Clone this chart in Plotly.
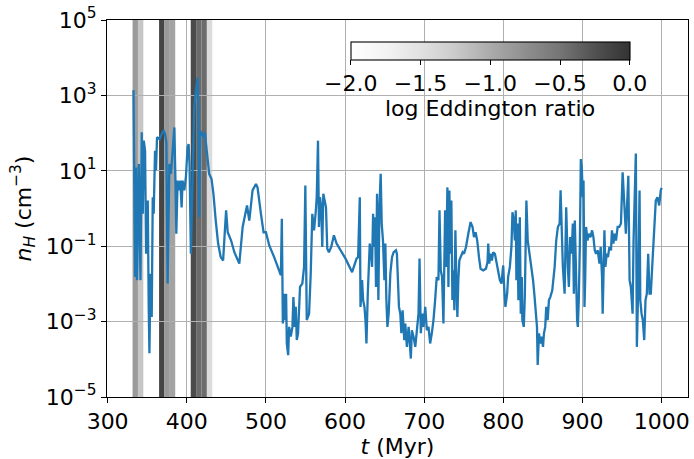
import numpy as np
import plotly.graph_objects as go
from plotly.colors import sample_colorscale

# ---------------- data ----------------
# time (Myr) and log10 of hydrogen number density (cm^-3)
t_myr = [
    332.7, 333.1, 334.7, 336.0, 337.2, 339.4, 341.5, 343.1, 344.4, 345.7, 347.3, 348.6, 350.7, 351.9, 352.8,
    354.1, 355.7, 357.0, 358.2, 359.9, 361.1, 362.4, 365.8, 369.2, 370.8, 372.5, 374.2, 375.8, 378.0, 380.0,
    382.1, 384.3, 385.5, 386.8, 388.4, 390.6, 391.8, 393.5, 394.7, 396.9, 398.9, 401.0, 402.3, 403.5, 405.2,
    407.3, 409.4, 411.4, 413.6, 414.8, 415.7, 417.0, 418.6, 421.1, 422.8, 425.3, 428.3, 431.2, 433.7, 436.6,
    439.6, 442.9, 445.9, 447.9, 449.7, 451.7, 456.0, 460.1, 466.4, 470.6, 476.1, 479.0, 483.1, 487.4, 489.4,
    493.7, 497.0, 500.0, 504.2, 510.4, 518.9, 520.1, 521.4, 523.0, 524.3, 525.5, 526.4, 528.1, 529.3, 531.4,
    533.5, 534.7, 536.5, 537.7, 539.0, 540.6, 543.1, 546.0, 548.2, 549.8, 551.6, 554.5, 556.6, 558.6, 560.8,
    562.9, 564.2, 565.8, 567.0, 568.3, 569.9, 571.2, 572.5, 574.2, 575.9, 577.5, 579.6, 582.5, 585.9, 589.3,
    594.3, 600.6, 608.9, 614.5, 616.5, 618.6, 619.5, 621.5, 622.8, 624.5, 625.8, 627.0, 628.7, 629.9, 631.2,
    632.8, 634.1, 635.4, 636.6, 637.9, 639.1, 640.4, 642.1, 643.4, 645.0, 646.3, 647.9, 649.7, 650.9, 652.2,
    653.5, 655.1, 657.2, 659.3, 661.4, 664.3, 665.5, 666.8, 668.1, 669.8, 671.1, 672.7, 674.8, 676.1, 678.1,
    680.3, 681.5, 683.1, 684.4, 686.5, 688.7, 690.7, 692.8, 694.1, 695.7, 697.5, 699.1, 701.3, 703.3, 705.4,
    707.5, 709.6, 711.7, 713.8, 715.8, 718.0, 719.3, 720.9, 722.6, 724.3, 726.4, 727.7, 729.3, 730.6, 731.8,
    733.1, 734.3, 735.6, 736.9, 738.1, 739.4, 740.6, 741.9, 743.1, 744.4, 746.0, 748.6, 750.3, 752.8, 755.7,
    758.6, 761.1, 762.9, 764.9, 767.0, 769.2, 771.2, 774.6, 778.0, 780.0, 780.9, 782.1, 783.8, 785.5, 787.2,
    789.3, 791.3, 793.5, 795.6, 797.6, 799.8, 801.0, 802.6, 804.8, 806.0, 808.2, 810.2, 811.5, 813.2, 814.5,
    815.7, 816.5, 817.7, 819.0, 820.8, 822.0, 823.3, 824.0, 825.8, 827.1, 829.1, 830.8, 832.5, 834.1, 835.9,
    837.5, 839.1, 840.9, 842.5, 843.4, 845.0, 846.7, 848.4, 850.1, 851.3, 852.9, 854.2, 856.0, 857.6, 859.3,
    861.8, 864.8, 866.8, 868.9, 871.1, 872.3, 873.6, 875.2, 877.4, 879.4, 881.5, 882.8, 884.4, 886.2, 887.8,
    889.1, 890.3, 891.9, 893.2, 894.1, 895.3, 896.6, 897.9, 899.1, 900.4, 901.3, 902.5, 903.3, 904.5, 906.3,
    907.9, 910.1, 912.1, 913.8, 915.5, 917.1, 919.3, 921.4, 923.0, 924.7, 925.5, 926.4, 927.7, 928.9, 930.6,
    932.2, 934.0, 936.0, 937.2, 939.0, 940.6, 942.3, 944.4, 946.5, 948.6, 950.7, 952.8, 954.8, 957.9, 959.5,
    961.1, 963.3, 964.5, 965.4, 967.4, 968.7, 970.4, 972.1, 973.0, 974.6, 976.2, 978.0, 979.6, 981.3, 983.0,
    984.7, 986.3, 988.5, 990.6, 992.6, 994.7, 996.9, 998.9, 1000.0,
]
log_nH = [
    3.14, 1.36, -1.82, 1.09, -1.90, 1.18, -1.90, 2.02, -0.14, 1.80, 1.53, -1.20, 0.21, -2.61, -3.84,
    -1.73, -2.88, 0.30, -0.14, 1.53, 1.01, 1.89, 1.84, 2.02, 2.06, 1.98, 1.75, -1.99, 1.18, 0.92,
    1.62, 2.15, 0.92, -0.67, 0.74, 0.48, 0.74, 0.03, 0.74, 0.48, 0.83, 1.62, 1.71, 1.18, -1.20,
    0.74, 2.68, 3.12, 3.47, 2.51, -0.23, 2.06, 1.98, 1.89, 2.02, 1.45, 0.92, 0.79, 0.39, -0.32,
    -0.93, -1.29, -1.38, -0.67, -0.05, -0.63, -0.85, -1.16, -1.46, -0.49, 0.08, -0.32, 0.48, 0.65, 0.56,
    -0.14, -0.63, -0.63, -0.98, -1.29, -1.77, -0.27, -3.05, -2.26, -2.96, -2.26, -3.58, -3.89, -3.14, -3.40,
    -3.14, -2.35, -3.14, -2.61, -3.49, -3.31, -2.08, -1.99, -1.55, 0.61, -2.96, -2.79, -1.73, -0.14, -0.58,
    -0.10, 0.30, 1.80, -0.49, 0.30, 0.03, -1.02, 0.39, 0.21, 0.03, -1.07, -1.16, -1.02, -0.71, -0.93,
    -1.11, -1.33, -1.69, -1.33, -1.29, 0.30, -2.61, -1.90, -2.43, -2.61, -2.96, -3.58, -2.26, -1.55, -0.93,
    -1.20, -1.55, -0.14, -1.02, -0.23, -2.08, 0.39, -2.43, 0.03, 0.92, -0.40, -0.85, -1.90, -0.93, -2.43,
    -3.14, -2.79, -1.73, -1.29, -1.16, -1.11, -1.20, -1.90, -2.61, -2.79, -3.31, -2.70, -3.49, -3.05, -3.67,
    -3.14, -3.58, -3.98, -3.23, -3.40, -3.67, -3.31, -2.79, -1.33, -3.31, -2.79, -3.14, -2.61, -3.23, -3.14,
    -3.58, -3.31, -2.96, -2.43, -1.82, -1.90, -0.05, -1.64, -1.82, -3.05, -0.05, -1.55, 0.56, -2.08, 0.48,
    -1.20, 0.21, -2.43, -1.64, -2.70, -0.58, -1.90, -2.88, -1.90, -1.38, -1.29, -1.16, -1.20, -1.02, -0.67,
    -0.36, -0.49, -0.76, -0.63, -0.85, -1.29, -1.60, -1.64, -1.60, -1.42, -0.93, -1.46, -1.20, -1.38, -1.16,
    -1.20, -1.42, -1.64, -1.90, -1.99, -1.51, -2.08, -2.61, -2.26, -1.82, -1.55, -1.02, -0.10, -0.32, -0.85,
    -0.05, -1.90, -0.40, -2.43, -0.23, -2.79, -1.82, -2.96, -3.14, -2.35, 0.21, -0.85, -1.11, -1.29, -1.55,
    -1.90, -2.26, -2.79, -3.14, -4.15, -3.31, -3.58, -3.40, -3.67, -3.31, -3.14, -2.61, -2.96, -2.43, -2.35,
    -2.17, -1.55, -0.85, -0.49, -0.40, 0.48, -0.85, -1.55, -2.26, 0.03, -1.55, -2.08, -0.76, -1.20, -0.40,
    -2.26, -0.32, -2.35, -2.96, -3.14, -2.43, -1.02, 1.31, 1.09, 0.30, 0.74, -2.61, -1.99, -0.49, -0.85,
    -0.67, -0.76, -0.58, -0.76, -1.11, -1.20, -1.11, -1.46, -1.02, -1.82, -2.79, -1.90, -0.58, -1.55, -1.20,
    -1.29, -1.02, -1.11, -0.58, -0.93, -0.67, -0.85, -0.49, -0.49, -0.40, 0.96, 0.12, -0.67, 0.87, -1.90,
    -2.08, -2.79, -0.85, 0.21, 1.46, -3.67, -2.08, 0.48, -2.43, -2.79, -2.96, -3.49, -2.43, -2.26, -1.20,
    -2.26, -2.26, -1.38, -0.49, 0.21, 0.30, 0.08, 0.48, 0.55,
]

# Eddington-ratio bins (Myr) and their log Eddington ratio
band_start = [331.5, 338.3, 365.0, 371.8, 378.6, 405.0, 411.8, 418.6, 425.4]
band_end = [338.3, 345.1, 371.8, 378.6, 385.4, 411.8, 418.6, 425.4, 432.2]
band_log_edd = [-0.85, -1.22, -0.15, -0.84, -0.93, -0.20, -0.43, -0.43, -1.43]

x_ticks = [300, 400, 500, 600, 700, 800, 900, 1000]
y_tick_exp = [-5, -3, -1, 1, 3, 5]
cbar_ticks = [-2.0, -1.5, -1.0, -0.5, 0.0]
cbar_label = "log Eddington ratio"

# Greys colormap drawn at 80% opacity on white
greys_scale = [
    [0.0, "#ffffff"], [0.125, "#f3f3f3"], [0.25, "#e1e1e1"], [0.375, "#cacaca"],
    [0.5, "#ababab"], [0.625, "#8f8f8f"], [0.75, "#757575"], [0.875, "#515151"], [1.0, "#333333"],
]
CMIN, CMAX = -2.0, 0.0

FONT = "DejaVu Sans"
FS = 22
CB_X = 0.6597

fig = go.Figure()

# shaded bins
for s, e, v in zip(band_start, band_end, band_log_edd):
    frac = (v - CMIN) / (CMAX - CMIN)
    col = sample_colorscale(greys_scale, [frac], colortype="rgb")[0]
    fig.add_vrect(x0=s, x1=e, fillcolor=col, line_width=0, layer="below", opacity=1)

# invisible trace carrying the colour bar
centers = [(s + e) / 2 for s, e in zip(band_start, band_end)]
fig.add_trace(go.Scatter(
    x=centers, y=[1.0] * len(centers), mode="markers", hoverinfo="skip", showlegend=False,
    marker=dict(
        color=band_log_edd, colorscale=greys_scale, cmin=CMIN, cmax=CMAX, opacity=0, size=1,
        showscale=True,
        colorbar=dict(
            orientation="h", x=CB_X, xanchor="center", y=0.941, yanchor="top",
            len=279.3, lenmode="pixels", thickness=17.6, thicknessmode="pixels",
            xpad=0, ypad=0, outlinewidth=1.1, outlinecolor="black",
            ticks="outside", ticklen=5, tickwidth=1.1, tickcolor="black",
            tickvals=cbar_ticks, ticktext=[f"{v:.1f}".replace("-", "\u2212") for v in cbar_ticks],
            tickfont=dict(family=FONT, size=FS, color="black"),
        ),
    ),
))

# density curve
fig.add_trace(go.Scatter(
    x=t_myr, y=np.power(10.0, np.array(log_nH)), mode="lines",
    line=dict(color="#1f77b4", width=2.3), showlegend=False, hoverinfo="skip",
))

fig.add_annotation(
    text=cbar_label, xref="paper", yref="paper", x=CB_X, y=0.7646,
    xanchor="center", yanchor="middle", showarrow=False,
    font=dict(family=FONT, size=FS, color="black"),
)

fig.update_layout(
    width=694, height=459,
    margin=dict(l=107, r=4, t=19, b=62),
    paper_bgcolor="white", plot_bgcolor="white",
    font=dict(family=FONT, size=FS, color="black"),
    showlegend=False,
)
fig.update_xaxes(
    range=[299.2, 1033.3], tickvals=x_ticks, ticktext=[str(v) for v in x_ticks],
    showgrid=True, gridcolor="#b0b0b0", gridwidth=1.1,
    showline=True, linecolor="black", linewidth=1.1, mirror=True,
    ticks="outside", ticklen=5, tickwidth=1.1, tickcolor="black",
    tickfont=dict(family=FONT, size=FS, color="black"), zeroline=False,
    title=dict(text="<i>t</i> (Myr)", font=dict(family=FONT, size=FS, color="black"), standoff=4),
)
fig.update_yaxes(
    type="log", range=[-5, 5],
    tickvals=[10.0 ** e for e in y_tick_exp],
    ticktext=[f"10<sup>{str(e).replace('-', chr(0x2212))}</sup>" for e in y_tick_exp],
    showgrid=True, gridcolor="#b0b0b0", gridwidth=1.1,
    showline=True, linecolor="black", linewidth=1.1, mirror=True,
    ticks="outside", ticklen=5, tickwidth=1.1, tickcolor="black",
    tickfont=dict(family=FONT, size=FS, color="black"), zeroline=False,
    title=dict(text="<i>n</i><sub><i>H</i></sub> (cm<sup>\u22123</sup>)",
               font=dict(family=FONT, size=FS, color="black"), standoff=8),
)

fig.write_html("out.html")
